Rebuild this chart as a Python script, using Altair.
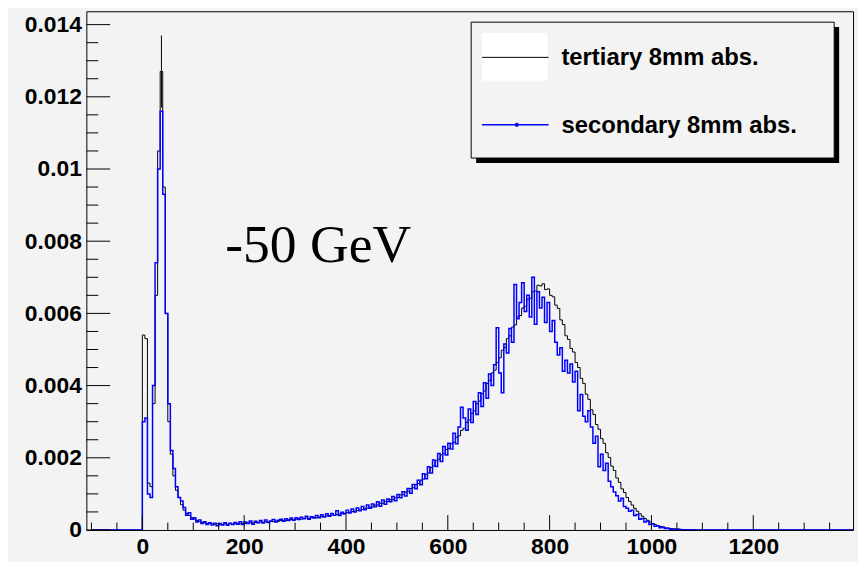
import altair as alt
import pandas as pd

# ---------------- data ----------------
# histogram bin lower edges (bin width 5) from 0 to 1095
bin_edges = list(range(0, 1100, 5))

# tertiary 8mm abs. (black), in units of 1e-4
tertiary = [
    54, 53, 13, 12, 35, 65, 105, 127, 95, 60,
    30, 21, 15, 11, 9, 7, 5.5, 4.6, 4.0, 3.4,
    3.0, 2.6, 2.4, 2.1, 2.0, 1.8, 1.8, 1.7, 1.6, 1.7,
    1.6, 1.5, 1.7, 1.6, 1.8, 1.6, 1.7, 1.8, 1.7, 1.9,
    1.8, 1.9, 2.0, 1.9, 2.1, 2.0, 2.2, 2.1, 2.3, 2.2,
    2.4, 2.3, 2.5, 2.4, 2.6, 2.7, 2.6, 2.8, 2.9, 2.8,
    3.0, 3.1, 3.0, 3.2, 3.3, 3.2, 3.4, 3.5, 3.4, 3.6,
    3.7, 3.8, 3.9, 4.0, 4.1, 4.0, 4.3, 4.4, 4.5, 4.6,
    4.8, 4.9, 5.1, 5.2, 5.4, 5.5, 5.7, 5.9, 6.1, 6.3,
    6.4, 6.9, 6.9, 7.4, 7.4, 7.9, 7.9, 8.4, 8.4, 8.9,
    9.0, 9.7, 9.8, 10.5, 10.7, 11.5, 11.7, 12.6, 12.9, 13.8,
    14.1, 15.4, 15.8, 17.3, 17.8, 19.2, 19.6, 20.8, 21.1, 22.3,
    22.6, 23.9, 24.3, 25.7, 26.1, 27.6, 28.2, 29.8, 30.5, 32.3,
    33.0, 35.0, 35.7, 37.8, 38.5, 40.6, 41.4, 43.5, 44.3, 46.4,
    47.7, 49.8, 50.6, 53.0, 53.8, 56.2, 56.8, 59.0, 59.4, 61.5,
    62.0, 63.9, 64.2, 66.0, 66.2, 67.8, 67.6, 68.2, 66.6, 66.8,
    65.0, 64.6, 62.3, 61.4, 58.2, 56.9, 53.8, 52.8, 50.3, 49.3,
    46.4, 45.0, 42.0, 40.6, 37.6, 36.2, 33.3, 32.0, 29.2, 27.9,
    25.3, 24.0, 21.4, 20.1, 17.7, 16.5, 14.4, 13.2, 11.4, 10.4,
    9.0, 7.9, 6.9, 6.0, 5.2, 4.5, 3.8, 3.2, 2.7, 2.2,
    1.8, 1.5, 1.2, 1.0, 0.8, 0.6, 0.5, 0.4, 0.3, 0.3,
    0.2, 0.2, 0.1, 0.1, 0.1, 0.05, 0.05, 0, 0, 0,
]

# secondary 8mm abs. (blue), in units of 1e-4
secondary = [
    30, 31, 10, 9, 40, 74, 100, 116, 93, 60,
    35, 22, 17, 12, 9, 8, 6.2, 4.1, 4.8, 3.0,
    3.4, 2.2, 2.8, 1.8, 2.3, 1.5, 2.0, 1.4, 1.9, 1.2,
    1.8, 1.4, 2.0, 1.3, 1.9, 1.5, 2.1, 1.6, 2.3, 1.5,
    2.2, 1.8, 2.5, 1.6, 2.4, 2.0, 2.6, 1.9, 2.8, 2.1,
    2.5, 2.9, 2.2, 2.7, 3.0, 2.4, 3.1, 2.6, 3.3, 2.7,
    3.4, 2.9, 3.5, 3.1, 3.8, 3.0, 3.7, 3.3, 4.0, 3.4,
    4.2, 3.6, 4.5, 3.8, 4.6, 4.1, 5.3, 4.0, 4.9, 4.4,
    5.5, 4.7, 5.8, 5.0, 6.1, 5.3, 6.5, 5.6, 6.9, 6.0,
    7.2, 6.4, 7.8, 6.6, 8.3, 7.1, 8.6, 7.8, 9.3, 8.1,
    9.8, 8.9, 10.6, 9.4, 11.5, 10.2, 12.6, 11.4, 13.8, 12.5,
    15.6, 14.2, 17.5, 15.8, 19.4, 17.6, 21.2, 19.0, 23.1, 20.8,
    24.0, 22.4, 26.8, 23.9, 28.5, 34.0, 31.0, 27.6, 33.5, 29.8,
    35.6, 32.0, 38.0, 34.2, 40.8, 36.5, 43.2, 40.0, 45.8, 56.0,
    43.5, 38.0, 51.5, 49.0, 55.8, 52.0, 68.0, 58.5, 63.0, 68.5,
    60.5, 65.0, 59.0, 70.0, 57.0, 66.0, 61.5, 64.5, 57.5, 63.0,
    55.0, 58.0, 52.0, 48.5, 50.5, 44.0, 47.0, 43.5, 46.0, 41.0,
    44.0, 33.0, 37.5, 31.5, 30.0, 33.0, 28.5, 24.0, 26.0, 17.5,
    21.0, 16.5, 18.5, 13.5, 12.0, 10.5, 9.5, 8.0, 8.8, 6.5,
    6.0, 5.2, 5.5, 4.0, 4.3, 3.0, 3.2, 2.2, 2.5, 1.5,
    1.7, 1.0, 1.2, 0.6, 0.8, 0.4, 0.5, 0.2, 0.3, 0.1,
    0.2, 0.1, 0.1, 0.0, 0.1, 0.0, 0.1, 0.0, 0.0, 0.0,
]

hist_low = -100
hist_high = 1400
hist_last_edge = 1100

# error bar on the black peak bin
err_x = [37.5]
err_lo = [0.0117]
err_hi = [0.0137]

x_major = [0, 200, 400, 600, 800, 1000, 1200]
x_minor = [v for v in range(-100, 1400, 50) if v % 200 != 0]
y_major = [0, 0.002, 0.004, 0.006, 0.008, 0.01, 0.012, 0.014]
y_minor = [round(0.0005 * k, 4) for k in range(1, 29) if k % 4 != 0]

x_domain = [-110, 1396]
y_domain = [0, 0.01437]

legend_labels = ["tertiary 8mm abs.", "secondary 8mm abs."]
annotation = "-50 GeV"

# ---------------- build ----------------
def step_frame(vals):
    xs = [hist_low] + bin_edges + [hist_last_edge, hist_high]
    ys = [0.0] + [v * 1e-4 for v in vals] + [0.0, 0.0]
    return pd.DataFrame({"x": xs, "y": ys})

W, H = 773, 523
BG = "#f3f3f3"
FONT = "Liberation Sans"

xscale = alt.Scale(domain=x_domain, nice=False, zero=False)
yscale = alt.Scale(domain=y_domain, nice=False, zero=False)

xaxis = alt.Axis(values=x_major, format="d", title=None, ticks=False, domain=False,
                 grid=False, labelPadding=6, labelFontSize=23, labelFontWeight="bold",
                 labelFont=FONT, labelColor="black", labelOverlap=False, labelFlush=False)
yaxis = alt.Axis(values=y_major, format="~g", title=None, ticks=False, domain=False,
                 grid=False, labelPadding=5, labelFontSize=23, labelFontWeight="bold",
                 labelFont=FONT, labelColor="black", labelOverlap=False, labelFlush=False)

X = lambda f: alt.X(f, scale=xscale, axis=xaxis, title=None)
Y = lambda f: alt.Y(f, scale=yscale, axis=yaxis, title=None)

black = alt.Chart(step_frame(tertiary)).mark_line(
    interpolate="step-after", color="black", strokeWidth=1, clip=True
).encode(x=X("x:Q"), y=Y("y:Q"))

errbar = alt.Chart(pd.DataFrame({"x": err_x, "lo": err_lo, "hi": err_hi})).mark_rule(
    color="black", strokeWidth=1
).encode(x=X("x:Q"), y=Y("lo:Q"), y2="hi:Q")

blue = alt.Chart(step_frame(secondary)).mark_line(
    interpolate="step-after", color="#0000ff", strokeWidth=1.5, clip=True
).encode(x=X("x:Q"), y=Y("y:Q"))

def xticks(vals, length):
    return alt.Chart(pd.DataFrame({"v": vals})).mark_rule(color="black", strokeWidth=1).encode(
        x=X("v:Q"), y=alt.value(H), y2=alt.value(H - length),
    )

def yticks(vals, length):
    return alt.Chart(pd.DataFrame({"v": vals})).mark_rule(color="black", strokeWidth=1).encode(
        y=Y("v:Q"), x=alt.value(0), x2=alt.value(length),
    )

one = alt.Data(values=[{"k": 0}])

def rect(x1, x2, y1, y2, **kw):
    return alt.Chart(one).mark_rect(**kw).encode(
        x=alt.value(x1), x2=alt.value(x2), y=alt.value(y1), y2=alt.value(y2))

def hline(x1, x2, y, **kw):
    return alt.Chart(one).mark_rule(**kw).encode(
        x=alt.value(x1), x2=alt.value(x2), y=alt.value(y))

def label(txt, x, y, **kw):
    return alt.Chart(one).mark_text(text=txt, align="left", baseline="alphabetic", **kw).encode(
        x=alt.value(x), y=alt.value(y))

legend = [
    rect(393, 759, 16, 153, color="black"),
    rect(388, 754, 11, 148, fill=BG, stroke="black", strokeWidth=1),
    rect(399, 465, 22, 70, color="white"),
    hline(399, 466, 46.5, color="black", strokeWidth=1),
    hline(399, 466, 114.5, color="#0000ff", strokeWidth=1.5),
    alt.Chart(one).mark_point(filled=True, color="#0000ff", size=18, opacity=1).encode(
        x=alt.value(434), y=alt.value(114.5)),
    label(legend_labels[0], 479, 54.5, font=FONT, fontSize=24, fontWeight="bold", color="black"),
    label(legend_labels[1], 479, 123, font=FONT, fontSize=24, fontWeight="bold", color="black"),
]

text = label(annotation, 140, 253, font="Liberation Serif", fontSize=54, color="black")

chart = alt.layer(
    black, errbar, blue,
    xticks(x_major, 15), xticks(x_minor, 7.5),
    yticks(y_major, 24), yticks(y_minor, 12),
    text, *legend,
).properties(
    width=W, height=H,
    autosize=alt.AutoSizeParams(type="none"),
    padding={"left": 79, "top": 1, "right": 5, "bottom": 30},
    background=BG,
).configure_view(
    fill=BG, stroke="black", strokeWidth=1
)

chart.save("out.html", embed_options={"renderer": "svg", "actions": False})
